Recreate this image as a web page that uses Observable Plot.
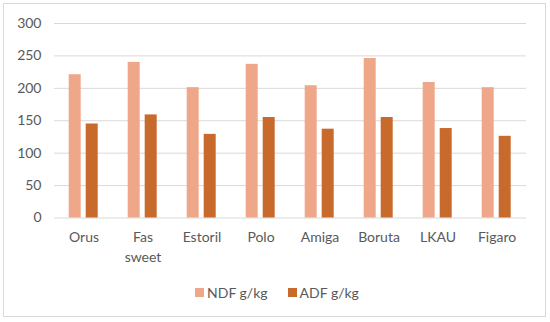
<!DOCTYPE html>
<html>
<head>
<meta charset="utf-8">
<script src="https://cdn.jsdelivr.net/npm/d3@7"></script>
<script src="https://cdn.jsdelivr.net/npm/@observablehq/plot@0.6"></script>
<style>
  html, body { margin: 0; padding: 0; background: #fff; }
  #wrap { position: relative; width: 550px; height: 322px; overflow: hidden; font-family: Lato, "Open Sans", sans-serif; }
  #frame { position: absolute; left: 3px; top: 3px; width: 543px; height: 314px; box-sizing: border-box; border: 1px solid #d9d9d9; }
  #chart { position: absolute; left: 0; top: 0; }
  #legend { position: absolute; left: 0; top: 284px; width: 550px; display: flex; justify-content: center; gap: 20px; font-size: 14px; color: #595959; padding-left: 4px; box-sizing: border-box; }
  .item { display: flex; align-items: center; gap: 3px; }
  .sw { width: 9px; height: 9px; display: inline-block; }
</style>
</head>
<body>
<div id="wrap">
  <div id="frame"></div>
  <div id="chart"></div>
  <div id="legend"></div>
</div>
<script>
const categories = ["Orus", "Fas sweet", "Estoril", "Polo", "Amiga", "Boruta", "LKAU", "Figaro"];
const seriesNames = ["NDF g/kg", "ADF g/kg"];
const ndfValues = [221, 240, 201, 237, 204, 246, 209, 201];
const adfValues = [145, 159, 129, 155, 137, 155, 138, 126];
const yTicks = [0, 50, 100, 150, 200, 250, 300];
const colors = ["#EFA78A", "#C86A2B"];
const tickLabels = {"Fas sweet": "Fas\nsweet"};

const data = [];
categories.forEach((c, i) => {
  data.push({category: c, series: seriesNames[0], value: ndfValues[i]});
  data.push({category: c, series: seriesNames[1], value: adfValues[i]});
});

const chart = Plot.plot({
  width: 550,
  height: 274,
  marginTop: 23,
  marginBottom: 56.5,
  marginLeft: 53.3,
  marginRight: 23.3,
  style: {fontFamily: "Lato, 'Open Sans', sans-serif", fontSize: "14px", fontWeight: "normal", color: "#595959", background: "transparent"},
  fx: {domain: categories, padding: 0, label: null, axis: null},
  x: {domain: seriesNames, paddingInner: 0.29, paddingOuter: 0.87, axis: null},
  y: {domain: [0, 300], label: null},
  color: {domain: seriesNames, range: colors},
  marks: [
    Plot.gridY(yTicks, {stroke: "#d9d9d9", strokeOpacity: 1, strokeWidth: 1}),
    Plot.axisY(yTicks, {tickSize: 0, tickPadding: 13, label: null, fill: "#595959", fontSize: 14}),
    Plot.axisFx({anchor: "bottom", tickSize: 0, tickPadding: 10, label: null, fill: "#595959", fontSize: 14, fontWeight: "normal", lineHeight: 1.4,
      tickFormat: d => tickLabels[d] ?? d}),
    Plot.barY(data, {fx: "category", x: "series", y: "value", fill: "series"})
  ]
});
document.getElementById("chart").appendChild(chart);

const legend = document.getElementById("legend");
seriesNames.forEach((s, i) => {
  const item = document.createElement("div");
  item.className = "item";
  const sw = document.createElement("span");
  sw.className = "sw";
  sw.style.background = colors[i];
  const t = document.createElement("span");
  t.textContent = s;
  item.appendChild(sw);
  item.appendChild(t);
  legend.appendChild(item);
});
</script>
</body>
</html>
